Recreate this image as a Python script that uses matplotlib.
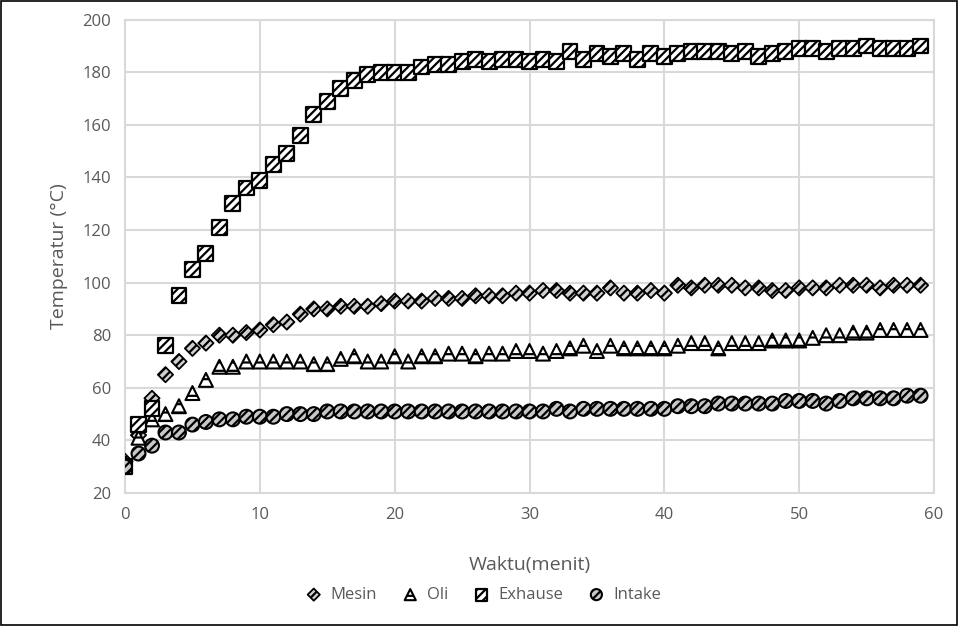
import matplotlib
matplotlib.use('Agg')

import numpy as np
import matplotlib.pyplot as plt

# data
waktu = list(range(60))

mesin = [32, 42, 56, 65, 70, 75, 77, 80, 80, 81,
         82, 84, 85, 88, 90, 90, 91, 91, 91, 92,
         93, 93, 93, 94, 94, 94, 95, 95, 95, 96,
         96, 97, 97, 96, 96, 96, 98, 96, 96, 97,
         96, 99, 98, 99, 99, 99, 98, 98, 97, 97,
         98, 98, 98, 99, 99, 99, 98, 99, 99, 99]

oli = [31, 41, 48, 50, 53, 58, 63, 68, 68, 70,
       70, 70, 70, 70, 69, 69, 71, 72, 70, 70,
       72, 70, 72, 72, 73, 73, 72, 73, 73, 74,
       74, 73, 74, 75, 76, 74, 76, 75, 75, 75,
       75, 76, 77, 77, 75, 77, 77, 77, 78, 78,
       78, 79, 80, 80, 81, 81, 82, 82, 82, 82]

exhause = [30, 46, 52, 76, 95, 105, 111, 121, 130, 136,
           139, 145, 149, 156, 164, 169, 174, 177, 179, 180,
           180, 180, 182, 183, 183, 184, 185, 184, 185, 185,
           184, 185, 184, 188, 185, 187, 186, 187, 185, 187,
           186, 187, 188, 188, 188, 187, 188, 186, 187, 188,
           189, 189, 188, 189, 189, 190, 189, 189, 189, 190]

intake = [30, 35, 38, 43, 43, 46, 47, 48, 48, 49,
          49, 49, 50, 50, 50, 51, 51, 51, 51, 51,
          51, 51, 51, 51, 51, 51, 51, 51, 51, 51,
          51, 51, 52, 51, 52, 52, 52, 52, 52, 52,
          52, 53, 53, 53, 54, 54, 54, 54, 54, 55,
          55, 55, 54, 55, 56, 56, 56, 56, 57, 57]

plt.rcParams['font.family'] = ['Open Sans', 'DejaVu Sans']
plt.rcParams['hatch.linewidth'] = 1.6

fig = plt.figure(figsize=(9.58, 6.26), dpi=100)
ax = fig.add_axes([0.1305, 0.2125, 0.8445, 0.756])

ax.scatter(waktu, mesin, marker='D', s=60, facecolor='#d0d0d0', edgecolor='black',
           linewidth=1.3, hatch='////', label='Mesin', zorder=3)
ax.scatter(waktu, oli, marker='^', s=100, facecolor='white', edgecolor='black',
           linewidth=1.5, hatch='--', label='Oli', zorder=3)
ax.scatter(waktu, exhause, marker='s', s=115, facecolor='white', edgecolor='black',
           linewidth=1.6, hatch='////', label='Exhause', zorder=3)
ax.scatter(waktu, intake, marker='o', s=100, facecolor='#c8c8c8', edgecolor='black',
           linewidth=1.5, hatch='////', label='Intake', zorder=3)

ax.set_xlim(0, 60)
ax.set_ylim(20, 200)
ax.set_xticks(np.arange(0, 61, 10))
ax.set_yticks(np.arange(20, 201, 20))
ax.grid(True, color='#d9d9d9', linewidth=1.5)
ax.set_axisbelow(True)
for s in ax.spines.values():
    s.set_color('#d9d9d9')
    s.set_linewidth(1.5)
ax.tick_params(length=0, labelsize=12, labelcolor='#595959', pad=10)

ax.set_xlabel('Waktu(menit)', fontsize=14, color='#595959', labelpad=24)
ax.set_ylabel('Temperatur (°C)', fontsize=14, color='#595959', labelpad=10)

fig.legend(loc='center', bbox_to_anchor=(0.5, 1 - 595 / 626), ncol=4, frameon=False,
           fontsize=12, labelcolor='#595959', handletextpad=0.0, columnspacing=1.0,
           markerscale=0.8, scatterpoints=1)

# thin frame around the whole figure
fig.patches.append(plt.Rectangle((0.001, 0.001), 0.998, 0.998, transform=fig.transFigure,
                                 fill=False, edgecolor='black', linewidth=1.2))

fig.savefig('out.png', dpi=100)
plt.close(fig)
